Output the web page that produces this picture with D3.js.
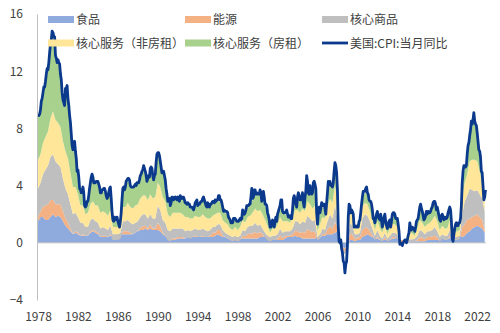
<!DOCTYPE html>
<html>
<head>
<meta charset="utf-8">
<script src="https://cdn.jsdelivr.net/npm/d3@7"></script>
<style>
  html, body { margin: 0; padding: 0; background: #fff; }
  svg { display: block; font-family: "Noto Sans CJK SC", "Noto Sans", sans-serif; }
</style>
</head>
<body>
<svg id="chart" width="500" height="333"></svg>
<script>
// US CPI year-on-year (%), monthly, Oct 1978 – Aug 2023
const cpiYoY = [
  8.9, 8.9, 9.0,
  9.3, 9.9, 10.1, 10.5, 10.9, 10.9, 11.3, 11.8, 12.2, 12.1, 12.6, 13.3,
  13.9, 14.2, 14.8, 14.7, 14.4, 14.4, 13.1, 12.9, 12.6, 12.8, 12.6, 12.5,
  11.8, 11.4, 10.5, 10.0, 9.8, 9.6, 10.8, 10.8, 11.0, 10.1, 9.6, 8.9,
  8.4, 7.6, 6.8, 6.5, 6.7, 7.1, 6.4, 5.9, 5.0, 5.1, 4.6, 3.8,
  3.7, 3.5, 3.6, 3.9, 3.5, 2.6, 2.5, 2.6, 2.9, 2.9, 3.3, 3.8,
  4.2, 4.6, 4.8, 4.6, 4.2, 4.2, 4.2, 4.3, 4.3, 4.3, 4.1, 3.9,
  3.5, 3.5, 3.7, 3.7, 3.8, 3.8, 3.6, 3.3, 3.1, 3.2, 3.5, 3.8,
  3.9, 3.1, 2.2, 1.6, 1.5, 1.8, 1.6, 1.6, 1.8, 1.5, 1.3, 1.1,
  1.5, 2.1, 3.0, 3.8, 3.9, 3.7, 3.9, 4.3, 4.4, 4.5, 4.5, 4.4,
  4.0, 3.9, 3.9, 3.9, 3.9, 4.0, 4.1, 4.0, 4.2, 4.2, 4.2, 4.4,
  4.7, 4.8, 5.0, 5.1, 5.4, 5.2, 5.0, 4.7, 4.3, 4.5, 4.7, 4.6,
  5.2, 5.3, 5.2, 4.7, 4.4, 4.7, 4.8, 5.6, 6.2, 6.3, 6.3, 6.1,
  5.7, 5.3, 4.9, 4.9, 5.0, 4.7, 4.4, 3.8, 3.4, 2.9, 3.0, 3.1,
  2.6, 2.8, 3.2, 3.2, 3.0, 3.1, 3.2, 3.1, 3.0, 3.2, 3.0, 2.9,
  3.3, 3.2, 3.1, 3.2, 3.2, 3.0, 2.8, 2.8, 2.7, 2.8, 2.7, 2.7,
  2.5, 2.5, 2.5, 2.4, 2.3, 2.5, 2.8, 2.9, 3.0, 2.6, 2.7, 2.7,
  2.8, 2.9, 2.9, 3.1, 3.2, 3.0, 2.8, 2.6, 2.5, 2.8, 2.6, 2.5,
  2.7, 2.7, 2.8, 2.9, 2.9, 2.8, 3.0, 2.9, 3.0, 3.0, 3.3, 3.3,
  3.0, 3.0, 2.8, 2.5, 2.2, 2.3, 2.2, 2.2, 2.2, 2.1, 1.8, 1.7,
  1.6, 1.4, 1.4, 1.4, 1.7, 1.7, 1.7, 1.6, 1.5, 1.5, 1.5, 1.6,
  1.7, 1.6, 1.7, 2.3, 2.1, 2.0, 2.1, 2.3, 2.6, 2.6, 2.6, 2.7,
  2.7, 3.2, 3.8, 3.1, 3.2, 3.7, 3.7, 3.4, 3.5, 3.4, 3.4, 3.4,
  3.7, 3.5, 2.9, 3.3, 3.6, 3.2, 2.7, 2.7, 2.6, 2.1, 1.9, 1.6,
  1.1, 1.1, 1.5, 1.6, 1.2, 1.1, 1.5, 1.8, 1.5, 2.0, 2.2, 2.4,
  2.6, 3.0, 3.0, 2.2, 2.1, 2.1, 2.1, 2.2, 2.3, 2.0, 1.8, 1.9,
  1.9, 1.7, 1.7, 2.3, 3.1, 3.3, 3.0, 2.7, 2.5, 3.2, 3.5, 3.3,
  3.0, 3.0, 3.1, 3.5, 2.8, 2.5, 3.2, 3.6, 4.7, 4.3, 3.5, 3.4,
  4.0, 3.6, 3.4, 3.5, 4.2, 4.3, 4.1, 3.8, 2.1, 1.3, 2.0, 2.5,
  2.1, 2.4, 2.8, 2.6, 2.7, 2.7, 2.4, 2.0, 2.8, 3.5, 4.3, 4.1,
  4.3, 4.0, 4.0, 3.9, 4.2, 5.0, 5.6, 5.4, 4.9, 3.7, 1.1, 0.1,
  0.0, 0.2, -0.4, -0.7, -1.3, -1.4, -2.1, -1.5, -1.3, -0.2, 1.8, 2.7,
  2.6, 2.1, 2.3, 2.2, 2.0, 1.1, 1.2, 1.1, 1.1, 1.2, 1.1, 1.5,
  1.6, 2.1, 2.7, 3.2, 3.6, 3.6, 3.6, 3.8, 3.9, 3.5, 3.4, 3.0,
  2.9, 2.9, 2.7, 2.3, 1.7, 1.7, 1.4, 1.7, 2.0, 2.2, 1.8, 1.7,
  1.6, 2.0, 1.5, 1.1, 1.4, 1.8, 2.0, 1.5, 1.2, 1.0, 1.2, 1.5,
  1.6, 1.1, 1.5, 2.0, 2.1, 2.1, 2.0, 1.7, 1.7, 1.7, 1.3, 0.8,
  -0.1, 0.0, -0.1, -0.2, 0.0, 0.1, 0.2, 0.2, 0.0, 0.2, 0.5, 0.7,
  1.4, 1.0, 0.9, 1.1, 1.0, 1.0, 0.8, 1.1, 1.5, 1.6, 1.7, 2.1,
  2.5, 2.7, 2.4, 2.2, 1.9, 1.6, 1.7, 1.9, 2.2, 2.0, 2.2, 2.1,
  2.1, 2.2, 2.4, 2.5, 2.8, 2.9, 2.9, 2.7, 2.3, 2.5, 2.2, 1.9,
  1.6, 1.5, 1.9, 2.0, 1.8, 1.6, 1.8, 1.7, 1.7, 1.8, 2.1, 2.3,
  2.5, 2.3, 1.5, 0.3, 0.1, 0.6, 1.0, 1.3, 1.4, 1.2, 1.2, 1.4,
  1.4, 1.7, 2.6, 4.2, 5.0, 5.4, 5.4, 5.3, 5.4, 6.2, 6.8, 7.0,
  7.5, 7.9, 8.5, 8.3, 8.6, 9.1, 8.5, 8.3, 8.2, 7.7, 7.1, 6.5,
  6.4, 6.0, 5.0, 4.9, 4.0, 3.0, 3.2, 3.7
];

// Contributions (percentage points), quarterly: Oct 1978, then Jan/Apr/Jul/Oct of each year
const food = [
  1.5,
  1.8, 1.8, 1.6, 1.6,  1.8, 2.0, 1.8, 1.9,  1.8, 1.5, 1.2, 1.0,  0.8, 0.6, 0.7, 0.6,
  0.5, 0.5, 0.5, 0.5,  0.7, 0.8, 0.7, 0.6,  0.4, 0.4, 0.4, 0.4,  0.5, 0.5, 0.6, 0.6,
  0.6, 0.6, 0.6, 0.6,  0.6, 0.6, 0.7, 0.8,  0.9, 0.9, 1.0, 0.9,  1.0, 0.9, 0.9, 0.9,
  0.8, 0.6, 0.5, 0.3,  0.2, 0.2, 0.2, 0.3,  0.3, 0.3, 0.3, 0.4,  0.4, 0.4, 0.4, 0.4,
  0.4, 0.4, 0.4, 0.4,  0.4, 0.4, 0.5, 0.6,  0.5, 0.4, 0.4, 0.3,  0.3, 0.3, 0.3, 0.3,
  0.3, 0.3, 0.3, 0.3,  0.3, 0.3, 0.3, 0.3,  0.4, 0.4, 0.5, 0.5,  0.3, 0.3, 0.3, 0.2,
  0.2, 0.2, 0.3, 0.4,  0.4, 0.4, 0.5, 0.4,  0.4, 0.3, 0.3, 0.3,  0.3, 0.3, 0.3, 0.4,
  0.4, 0.5, 0.5, 0.6,  0.6, 0.6, 0.7, 0.8,  0.1, -0.3, -0.4, -0.1,  0.2, 0.2, 0.1, 0.2,
  0.2, 0.4, 0.5, 0.6,  0.5, 0.4, 0.3, 0.3,  0.2, 0.2, 0.2, 0.2,  0.2, 0.3, 0.3, 0.4,
  0.2, 0.2, 0.2, 0.2,  0.1, 0.1, 0.1, 0.1,  0.1, 0.1, 0.1, 0.2,  0.2, 0.2, 0.2, 0.2,
  0.2, 0.3, 0.3, 0.3,  0.3, 0.4, 0.5, 0.5,  0.5, 0.4, 0.5, 0.7,  0.8, 1.0, 1.1, 1.2,
  1.1, 1.0, 0.7
];
const energy = [
  0.3,
  0.4, 0.7, 1.0, 1.1,  1.2, 1.0, 0.9, 0.8,  0.9, 0.7, 0.5, 0.4,  0.2, 0.0, 0.1, 0.1,
  0.0, 0.1, 0.0, 0.0,  0.1, 0.1, 0.1, 0.1,  0.0, 0.1, 0.1, 0.0,  0.1, -0.3, -0.4, -0.4,
  -0.3, 0.2, 0.2, 0.2,  0.1, 0.0, 0.0, 0.0,  0.15, 0.25, 0.2, 0.1,  0.3, 0.1, 0.1, 0.5,
  0.35, 0.1, 0.0, -0.1,  -0.1, 0.1, 0.1, 0.1,  0.1, 0.1, 0.0, 0.0,  -0.1, 0.0, 0.1, 0.0,
  0.0, 0.1, 0.0, 0.0,  0.1, 0.3, 0.2, 0.3,  0.4, 0.1, 0.0, 0.0,  -0.1, -0.2, -0.1, -0.2,
  -0.1, 0.2, 0.15, 0.3,  0.35, 0.35, 0.45, 0.35,  0.35, 0.2, -0.1, -0.3,  -0.2, -0.1, -0.1, 0.1,
  0.3, 0.15, 0.15, 0.1,  0.1, 0.2, 0.35, 0.4,  0.3, 0.45, 0.4, 0.65,  0.55, 0.45, 0.5, -0.2,
  -0.1, 0.15, 0.1, 0.35,  0.55, 0.4, 0.75, 0.3,  -0.3, -0.3, -0.4, -0.1,  0.45, 0.4, 0.15, 0.15,
  0.2, 0.5, 0.55, 0.45,  0.3, 0.15, -0.1, 0.15,  0.0, -0.1, 0.2, -0.1,  0.0, 0.1, 0.1, -0.1,
  -0.15, -0.15, -0.15, -0.15,  -0.05, -0.05, 0.0, 0.1,  0.3, 0.25, 0.15, 0.2,  0.2, 0.25, 0.3, 0.2,
  -0.1, 0.0, -0.1, -0.1,  0.2, -0.3, -0.3, -0.3,  -0.2, 0.7, 0.8, 0.9,  0.9, 0.8, 0.8, 0.8,
  0.7, 0.6, 0.2
];
const coreGoods = [
  2.0,
  2.0, 2.3, 2.5, 2.7,  3.0, 3.2, 3.0, 2.8,  2.6, 2.3, 2.1, 2.0,  1.7, 1.4, 1.3, 1.1,
  0.9, 0.8, 0.6, 0.6,  0.8, 0.8, 0.7, 0.7,  0.6, 0.6, 0.5, 0.5,  0.6, 0.4, 0.4, 0.4,
  0.4, 0.7, 0.7, 0.8,  0.7, 0.7, 0.7, 0.7,  0.75, 0.85, 0.8, 0.7,  0.7, 0.7, 0.7, 1.2,
  1.15, 0.9, 0.9, 0.7,  0.7, 0.7, 0.7, 0.6,  0.6, 0.6, 0.5, 0.5,  0.5, 0.5, 0.5, 0.5,
  0.5, 0.5, 0.5, 0.4,  0.4, 0.4, 0.4, 0.4,  0.4, 0.4, 0.3, 0.3,  0.3, 0.3, 0.3, 0.3,
  0.3, 0.4, 0.35, 0.5,  0.55, 0.55, 0.65, 0.55,  0.55, 0.4, 0.3, 0.3,  0.3, 0.3, 0.3, 0.3,
  0.5, 0.35, 0.35, 0.3,  0.3, 0.4, 0.65, 0.7,  0.6, 0.75, 0.7, 0.95,  0.85, 0.75, 0.8, 0.2,
  0.3, 0.35, 0.3, 0.55,  0.85, 0.7, 1.15, 0.6,  0.2, 0.2, 0.2, 0.1,  0.75, 0.6, 0.35, 0.25,
  0.3, 0.8, 0.95, 0.85,  0.7, 0.45, 0.3, 0.45,  0.3, 0.2, 0.3, 0.2,  0.3, 0.3, 0.3, 0.3,
  0.0, 0.0, 0.1, 0.1,  0.2, 0.2, 0.2, 0.3,  0.5, 0.45, 0.35, 0.4,  0.4, 0.45, 0.6, 0.4,
  0.3, 0.3, 0.3, 0.3,  0.4, 0.1, 0.2, 0.2,  0.2, 0.9, 1.6, 1.7,  2.1, 1.9, 1.7, 1.7,
  1.6, 1.5, 1.3
];
const servicesExRent = [
  2.0,
  2.0, 2.2, 2.3, 2.4,  2.7, 3.0, 2.9, 2.9,  2.8, 2.6, 2.6, 2.5,  2.2, 1.9, 1.8, 1.6,
  1.2, 1.2, 0.9, 1.0,  1.1, 1.2, 1.1, 1.2,  1.1, 1.1, 1.1, 1.0,  1.1, 0.5, 0.5, 0.5,
  0.4, 1.0, 1.0, 1.2,  1.1, 1.1, 1.2, 1.2,  1.3, 1.3, 1.3, 1.3,  1.4, 1.4, 1.5, 1.6,
  1.6, 1.6, 1.5, 1.1,  1.0, 1.1, 1.1, 1.1,  1.1, 1.0, 1.0, 0.9,  0.9, 0.8, 0.9, 0.9,
  0.9, 1.0, 0.9, 0.9,  0.8, 0.8, 0.9, 0.8,  0.8, 0.7, 0.7, 0.7,  0.5, 0.5, 0.6, 0.5,
  0.6, 0.7, 0.6, 0.7,  0.7, 0.9, 1.0, 1.0,  1.0, 1.0, 0.9, 0.7,  0.3, 0.5, 0.5, 0.7,
  0.8, 0.8, 0.7, 0.7,  0.6, 0.7, 0.8, 0.8,  0.8, 0.9, 0.8, 1.0,  1.0, 0.9, 1.0, 0.4,
  0.7, 0.8, 0.8, 1.0,  1.1, 1.1, 1.4, 1.0,  0.0, 0.0, 0.0, 0.0,  0.8, 0.7, 0.4, 0.4,
  0.5, 0.8, 0.8, 0.8,  0.7, 0.6, 0.4, 0.6,  0.5, 0.4, 0.6, 0.3,  0.5, 0.6, 0.6, 0.5,
  0.0, 0.0, 0.05, 0.05,  0.5, 0.4, 0.2, 0.5,  0.7, 0.6, 0.5, 0.5,  0.6, 0.7, 0.8, 0.7,
  0.5, 0.6, 0.5, 0.5,  0.7, 0.05, 0.3, 0.4,  0.4, 1.1, 1.3, 1.5,  1.9, 2.1, 2.2, 2.0,
  1.6, 1.0, 0.6
];
const rent = [
  3.0,
  3.0, 3.4, 3.8, 4.2,  5.1, 5.4, 4.4, 4.3,  3.6, 2.8, 4.3, 4.1,  3.4, 2.5, 2.4, 1.6,
  1.0, 1.2, 0.4, 0.7,  1.4, 1.6, 1.5, 1.6,  1.3, 1.4, 1.4, 1.2,  1.5, 0.4, 0.4, 0.3,
  0.3, 1.2, 1.3, 1.6,  1.4, 1.4, 1.4, 1.4,  1.5, 1.7, 1.6, 1.4,  1.7, 1.5, 1.5, 2.0,
  1.7, 1.6, 1.4, 0.8,  0.7, 1.0, 1.0, 1.0,  1.1, 1.1, 0.9, 0.9,  0.7, 0.6, 0.8, 0.7,
  0.9, 1.0, 0.9, 1.0,  0.9, 0.9, 0.9, 0.8,  0.8, 0.8, 0.7, 0.7,  0.5, 0.5, 0.6, 0.5,
  0.6, 0.6, 0.6, 0.7,  0.7, 0.9, 1.2, 1.1,  1.3, 1.2, 1.0, 0.8,  0.3, 0.5, 0.5, 0.6,
  0.7, 0.6, 0.5, 0.4,  0.4, 0.5, 0.6, 0.8,  0.8, 1.0, 0.9, 1.3,  1.2, 1.0, 1.4, 0.4,
  0.7, 0.7, 0.6, 0.9,  1.1, 1.0, 1.5, 0.9,  0.0, 0.0, 0.0, 0.0,  0.3, 0.2, 0.1, 0.1,
  0.3, 0.6, 0.7, 0.7,  0.7, 0.6, 0.4, 0.6,  0.6, 0.4, 0.6, 0.4,  0.6, 0.7, 0.7, 0.6,
  0.0, 0.0, 0.0, 0.0,  0.6, 0.45, 0.3, 0.6,  0.9, 0.8, 0.6, 0.7,  0.7, 0.9, 1.0, 1.0,
  0.7, 0.8, 0.8, 0.8,  0.9, 0.05, 0.3, 0.4,  0.5, 1.0, 1.1, 1.3,  1.7, 2.4, 2.6, 1.9,
  1.3, 0.7, 0.4
];

const seriesNames = ["食品", "能源", "核心商品", "核心服务（非房租）", "核心服务（房租）"];
const lineName = "美国:CPI:当月同比";
const xTickLabels = ["1978", "1982", "1986", "1990", "1994", "1998", "2002", "2006", "2010", "2014", "2018", "2022"];
const yTicks = [-4, 0, 4, 8, 12, 16];

const colors = ["#8faadc", "#f4b183", "#bfbfbf", "#ffe699", "#a9d18e"];
const lineColor = "#0b3a8c";
const textColor = "#404040";
const axisColor = "#bfbfbf";

const svg = d3.select("#chart");

// Month index (0 = Oct 1978) on the horizontal axis
const x = d3.scaleLinear().domain([0, cpiYoY.length - 1]).range([38, 485.5]);
const y = d3.scaleLinear().domain([-4, 16]).range([300, 14]);

// Quarterly table for the stacked areas
const keys = ["food", "energy", "coreGoods", "servicesExRent", "rent"];
const table = food.map((v, i) => ({
  m: i * 3,
  food: v,
  energy: energy[i],
  coreGoods: coreGoods[i],
  servicesExRent: servicesExRent[i],
  rent: rent[i]
}));
const stacked = d3.stack().keys(keys).offset(d3.stackOffsetNone)(table);

const area = d3.area()
  .x(d => x(d.data.m))
  .y0(d => y(d[0]))
  .y1(d => y(d[1]));

svg.append("g")
  .selectAll("path")
  .data(stacked)
  .join("path")
  .attr("fill", (d, i) => colors[i])
  .attr("d", area);

// Zero line
svg.append("line")
  .attr("x1", 37).attr("x2", 486)
  .attr("y1", y(0)).attr("y2", y(0))
  .attr("stroke", axisColor)
  .attr("stroke-width", 1);

// CPI line
const line = d3.line()
  .x((d, i) => x(i))
  .y(d => y(d));
svg.append("path")
  .datum(cpiYoY)
  .attr("fill", "none")
  .attr("stroke", lineColor)
  .attr("stroke-width", 2.8)
  .attr("stroke-linejoin", "round")
  .attr("d", line);

// Y axis
const yAxis = svg.append("g")
  .attr("transform", "translate(37,0)")
  .call(d3.axisLeft(y).tickValues(yTicks).tickSize(0).tickSizeOuter(0).tickPadding(14).tickFormat(d3.format("d")));
yAxis.select(".domain").attr("stroke", axisColor);
yAxis.selectAll("text")
  .attr("fill", textColor)
  .style("font-size", "12px")
  .style("font-family", "'Noto Sans CJK SC', 'Noto Sans', sans-serif");

// X axis (labels only)
const xAxis = svg.append("g")
  .attr("transform", "translate(0,307)")
  .call(d3.axisBottom(x)
    .tickValues(xTickLabels.map((_, i) => i * 48))
    .tickSize(0)
    .tickSizeOuter(0)
    .tickPadding(5)
    .tickFormat((d, i) => xTickLabels[i]));
xAxis.select(".domain").remove();
xAxis.selectAll("text")
  .attr("fill", textColor)
  .style("font-size", "12px")
  .style("font-family", "'Noto Sans CJK SC', 'Noto Sans', sans-serif");

// Legend
const legendItems = seriesNames.map((name, i) => ({ name, color: colors[i], type: "area" }))
  .concat([{ name: lineName, color: lineColor, type: "line" }]);
const colX = [48, 185, 322];
const rowY = [19.5, 43];
const legend = svg.append("g");
legendItems.forEach((item, i) => {
  const cx = colX[i % 3];
  const cy = rowY[Math.floor(i / 3)];
  if (item.type === "area") {
    legend.append("rect")
      .attr("x", cx).attr("y", cy - 3.5)
      .attr("width", 26).attr("height", 7)
      .attr("fill", item.color);
  } else {
    legend.append("line")
      .attr("x1", cx).attr("x2", cx + 26)
      .attr("y1", cy).attr("y2", cy)
      .attr("stroke", item.color)
      .attr("stroke-width", 2.8);
  }
  legend.append("text")
    .attr("x", cx + 28)
    .attr("y", cy + 4.5)
    .attr("fill", textColor)
    .style("font-size", "12px")
    .text(item.name);
});
</script>
</body>
</html>
